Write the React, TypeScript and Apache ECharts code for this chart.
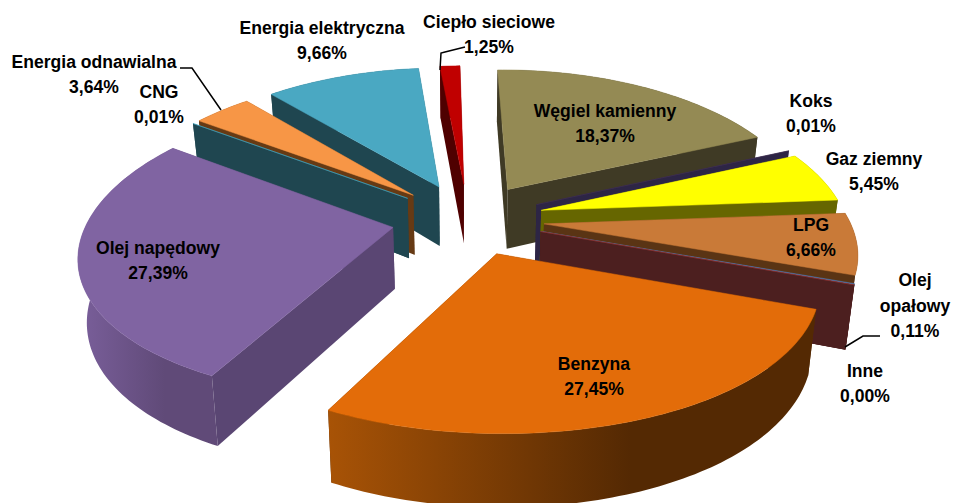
import React, { useEffect, useRef } from "react";
import * as echarts from "echarts";

const categories = ["Węgiel kamienny", "Koks", "Gaz ziemny", "LPG", "Olej opałowy", "Inne", "Benzyna", "Olej napędowy", "CNG", "Energia odnawialna", "Energia elektryczna", "Ciepło sieciowe"];
const shares = [18.37, 0.01, 5.45, 6.66, 0.11, 0.0, 27.45, 27.39, 0.01, 3.64, 9.66, 1.25];
const topColors = ["#948a54", "#403152", "#ffff00", "#c97a38", "#4f81bd", "#953735", "#e36c09", "#8064a2", "#4bacc6", "#f79646", "#4aa8c2", "#c00000"];
const wallColors = ["#3f3a25", "#2d2545", "#666600", "#5a3414", "#4c1f1f", "#4c1f1f", "#562a03", "#5a4673", "#1f4650", "#663a14", "#1f4650", "#4f0000"];
const arcLeft = ["#4a4530", "#2d2545", "#666600", "#7a4a20", "#4c1f1f", "#4c1f1f", "#a85306", "#7a5f9b", "#1f4650", "#663a14", "#1f4650", "#6a0000"];
const arcRight = ["#3f3a25", "#2d2545", "#666600", "#5a3414", "#4c1f1f", "#4c1f1f", "#542903", "#604a78", "#1f4650", "#663a14", "#1f4650", "#4f0000"];

const labelLayout: [number, number, string?][] = [
  [605, 123], [811, 113], [874, 171], [811, 237], [915, 305, "Olej\nopałowy"], [865, 383],
  [594, 376], [158, 260], [159, 104], [94, 74], [322, 40], [489, 34],
];
const leaders: number[][][] = [
  [[465, 47], [445, 52], [441, 53], [440, 70]],
  [[180, 68], [192, 68], [221, 110]],
  [[880, 336], [863, 336], [845, 347]],
];

const cx = 468, cy = 219, Rx = 305, Ry = 144, KX = 0.17, KY = 0.14, H = 61, EX = 0.25, DEG = Math.PI / 180, TAPER = 0.023;

const total = shares.reduce((a, b) => a + b, 0);
const starts: number[] = [];
shares.reduce((acc, v, i) => { starts[i] = acc; return acc + v; }, 0);

// The reference's 3-D view turns the far left a little more than the right.
const warp = (t: number) => t + (-1 + Math.sin(t)) * DEG;

function project(u: number, v: number, h: number) {
  const sx = 1 / (1 - KX * v);
  const sy = 1 / (1 - KY * v);
  return [cx + Rx * u * sx * (1 - TAPER * h), cy + Ry * v * sy + h * H * sy];
}

function buildSlice(index: number) {
  const a0 = warp((starts[index] / total) * Math.PI * 2);
  const a1 = warp(((starts[index] + shares[index]) / total) * Math.PI * 2);
  const m = (a0 + a1) / 2;
  const au = EX * Math.sin(m), av = -EX * Math.cos(m);
  const n = Math.max(2, Math.ceil((a1 - a0) / 0.02));
  const rim: [number, number][] = [];
  for (let i = 0; i <= n; i++) {
    const t = a0 + ((a1 - a0) * i) / n;
    rim.push([au + Math.sin(t), av - Math.cos(t)]);
  }
  const quad = (p: [number, number], q: [number, number]) => [
    project(p[0], p[1], 0), project(q[0], q[1], 0), project(q[0], q[1], 1), project(p[0], p[1], 1),
  ];
  const apex: [number, number] = [au, av];
  const gradient = new echarts.graphic.LinearGradient(0, 0, 1, 0, [
    { offset: 0, color: arcLeft[index] },
    { offset: 0.62, color: arcRight[index] },
    { offset: 1, color: arcRight[index] },
  ]);
  const walls: { d: number; points: number[][]; fill: any }[] = [
    { d: (apex[1] + rim[0][1]) / 2, points: quad(apex, rim[0]), fill: wallColors[index] },
    { d: (apex[1] + rim[n][1]) / 2, points: quad(apex, rim[n]), fill: wallColors[index] },
    {
      d: rim[Math.floor(n / 2)][1],
      points: [...rim.map((p) => project(p[0], p[1], 0)), ...rim.slice().reverse().map((p) => project(p[0], p[1], 1))],
      fill: gradient,
    },
  ];
  walls.sort((a, b) => a.d - b.d);
  const top = [project(apex[0], apex[1], 0), ...rim.map((p) => project(p[0], p[1], 0))];
  return [
    ...walls.map((w) => ({ type: "polygon", shape: { points: w.points }, style: { fill: w.fill } })),
    { type: "polygon", shape: { points: top }, style: { fill: topColors[index], stroke: topColors[index], lineWidth: 0.5 } },
  ];
}

const fmt = (v: number) => v.toFixed(2).replace(".", ",") + "%";

export default function App() {
  const ref = useRef<HTMLDivElement>(null);
  useEffect(() => {
    const chart = echarts.init(ref.current!, undefined, { renderer: "svg" });
    const depth = (i: number) => -Math.cos(((starts[i] + shares[i] / 2) / total) * Math.PI * 2);
    const order = shares.map((_, i) => i).sort((a, b) => depth(a) - depth(b));
    chart.setOption({
      animation: false,
      backgroundColor: "#ffffff",
      series: [
        {
          type: "custom",
          coordinateSystem: "none",
          silent: true,
          data: order.map((i) => ({ name: categories[i], value: [shares[i], i] })),
          renderItem: (_p: any, api: any) => ({ type: "group", children: buildSlice(api.value(1)) }),
        },
      ],
      graphic: [
        ...leaders.map((points) => ({
          type: "polyline",
          z: 20,
          shape: { points },
          style: { stroke: "#000000", lineWidth: 1.5, fill: "none" },
        })),
        ...categories.map((c, i) => ({
          type: "text",
          z: 30,
          x: labelLayout[i][0],
          y: labelLayout[i][1],
          scaleX: 0.925,
          style: {
            text: `${labelLayout[i][2] ?? c}\n${fmt(shares[i])}`,
            font: 'bold 19px "Liberation Sans", Arial, sans-serif',
            lineHeight: 25.5,
            align: "center",
            verticalAlign: "middle",
            fill: "#000000",
          },
        })),
      ],
    });
    return () => chart.dispose();
  }, []);
  return <div ref={ref} style={{ position: "absolute", left: 0, top: 0, width: 954, height: 503 }} />;
}
